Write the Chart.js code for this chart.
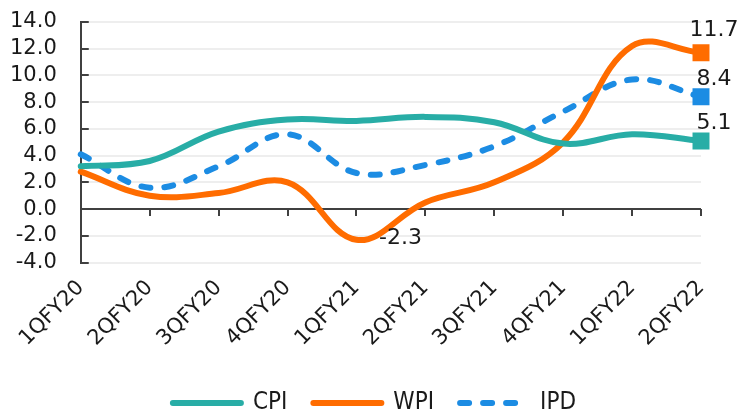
<!DOCTYPE html>
<html>
<head>
<meta charset="utf-8">
<script src="https://cdn.jsdelivr.net/npm/chart.js@4.4.0/dist/chart.umd.min.js"></script>
<style>
    html, body { margin: 0; padding: 0; background: #fff; }
    #wrap { width: 739px; height: 412px; }
</style>
</head>
<body>
<div id="wrap"><canvas id="chart"></canvas></div>
<script>
// --- DATA ---
const quarters = ['1QFY20', '2QFY20', '3QFY20', '4QFY20', '1QFY21', '2QFY21', '3QFY21', '4QFY21', '1QFY22', '2QFY22'];
const cpiValues = [3.2, 3.6, 5.8, 6.7, 6.6, 6.9, 6.5, 4.9, 5.6, 5.1];
const wpiValues = [2.8, 1.0, 1.2, 2.0, -2.3, 0.5, 2.0, 5.0, 12.2, 11.7];
const ipdValues = [4.1, 1.6, 3.2, 5.6, 2.7, 3.3, 4.7, 7.3, 9.7, 8.4];

const yMin = -4, yMax = 14, yStep = 2;

const colors = { cpi: '#28ada6', wpi: '#ff6c00', ipd: '#1c8ce3' };
const FONT = "'DejaVu Sans', Verdana, sans-serif";
const last = quarters.length - 1;

// value labels: which point of which series, and where the text sits relative to it
const valueLabels = [
    { ds: 1, i: last, dx: 13, dy: -22 },
    { ds: 2, i: last, dx: 13, dy: -18 },
    { ds: 0, i: last, dx: 13, dy: -18 },
    { ds: 1, i: 4, dx: 44, dy: -2 }
];

// small tick marks: inside on y axis, downward on the zero line
const axisMarks = {
    id: 'axisMarks',
    beforeDatasetsDraw(chart) {
        const { ctx, scales: { x, y } } = chart;
        ctx.save();
        ctx.strokeStyle = '#404040';
        ctx.lineWidth = 2;
        ctx.beginPath();
        for (let v = yMin; v <= yMax; v += yStep) {
            const py = Math.round(y.getPixelForValue(v));
            ctx.moveTo(x.left, py);
            ctx.lineTo(x.left + 8, py);
        }
        const zero = Math.round(y.getPixelForValue(0));
        quarters.forEach((q, i) => {
            const px = Math.round(x.getPixelForValue(i));
            ctx.moveTo(px, zero);
            ctx.lineTo(px, zero + 7);
        });
        ctx.stroke();
        ctx.restore();
    },
    afterDatasetsDraw(chart) {
        const { ctx } = chart;
        ctx.save();
        ctx.font = `22px ${FONT}`;
        ctx.fillStyle = '#1a1a1a';
        ctx.textAlign = 'center';
        ctx.textBaseline = 'middle';
        valueLabels.forEach(l => {
            const pt = chart.getDatasetMeta(l.ds).data[l.i];
            const val = chart.data.datasets[l.ds].data[l.i];
            ctx.fillText(val.toFixed(1), pt.x + l.dx, pt.y + l.dy);
        });
        ctx.restore();
    }
};

const endMarker = ctx => ctx.dataIndex === last ? 12 : 0;

const makeSeries = (label, data, color, dash) => ({
    label,
    data,
    borderColor: color,
    backgroundColor: color,
    borderWidth: 6,
    borderDash: dash,
    borderCapStyle: 'round',
    tension: 0.38,
    pointStyle: 'rect',
    pointRadius: endMarker,
    pointHoverRadius: endMarker,
    pointBorderWidth: 0,
    pointBackgroundColor: color
});

new Chart(document.getElementById('chart'), {
    type: 'line',
    data: {
        labels: quarters,
        datasets: [
            makeSeries('CPI', cpiValues, colors.cpi, []),
            makeSeries('WPI', wpiValues, colors.wpi, []),
            makeSeries('IPD', ipdValues, colors.ipd, [9, 14])
        ]
    },
    options: {
        responsive: true,
        maintainAspectRatio: false,
        animation: false,
        layout: { padding: { left: 10, right: 0, top: 0, bottom: -13 } },
        plugins: {
            legend: {
                position: 'bottom',
                labels: {
                    usePointStyle: true,
                    pointStyleWidth: 68,
                    padding: 26,
                    color: '#1a1a1a',
                    font: { family: "'DejaVu Sans Condensed', 'DejaVu Sans', sans-serif", size: 24 },
                    // legend samples taken from the line style, not the end marker
                    generateLabels: chart => chart.data.datasets.map((ds, i) => ({
                        text: ds.label,
                        datasetIndex: i,
                        hidden: false,
                        pointStyle: 'line',
                        strokeStyle: ds.borderColor,
                        fillStyle: ds.borderColor,
                        lineWidth: 6,
                        lineDash: ds.borderDash,
                        lineCap: 'round',
                        fontColor: '#1a1a1a'
                    }))
                }
            },
            tooltip: { enabled: false }
        },
        scales: {
            x: {
                offset: false,
                grid: { display: false },
                border: { display: false },
                afterFit: s => { s.paddingLeft = 0; s.paddingRight = 38; s.height += 9; },
                ticks: {
                    minRotation: 45,
                    maxRotation: 45,
                    padding: 5,
                    color: '#1a1a1a',
                    font: { family: FONT, size: 21 }
                }
            },
            y: {
                min: yMin,
                max: yMax,
                afterFit: s => { s.width -= 24; s.paddingTop = 22; s.paddingBottom = 0; },
                grid: {
                    drawTicks: false,
                    lineWidth: 2,
                    color: c => c.tick && c.tick.value === 0 ? '#404040' : '#eeeeee'
                },
                border: { color: '#404040', width: 2 },
                ticks: {
                    stepSize: yStep,
                    autoSkip: false,
                    padding: 24,
                    color: '#1a1a1a',
                    font: { family: FONT, size: 21 },
                    callback: v => v.toFixed(1)
                }
            }
        }
    },
    plugins: [axisMarks]
});
</script>
</body>
</html>
